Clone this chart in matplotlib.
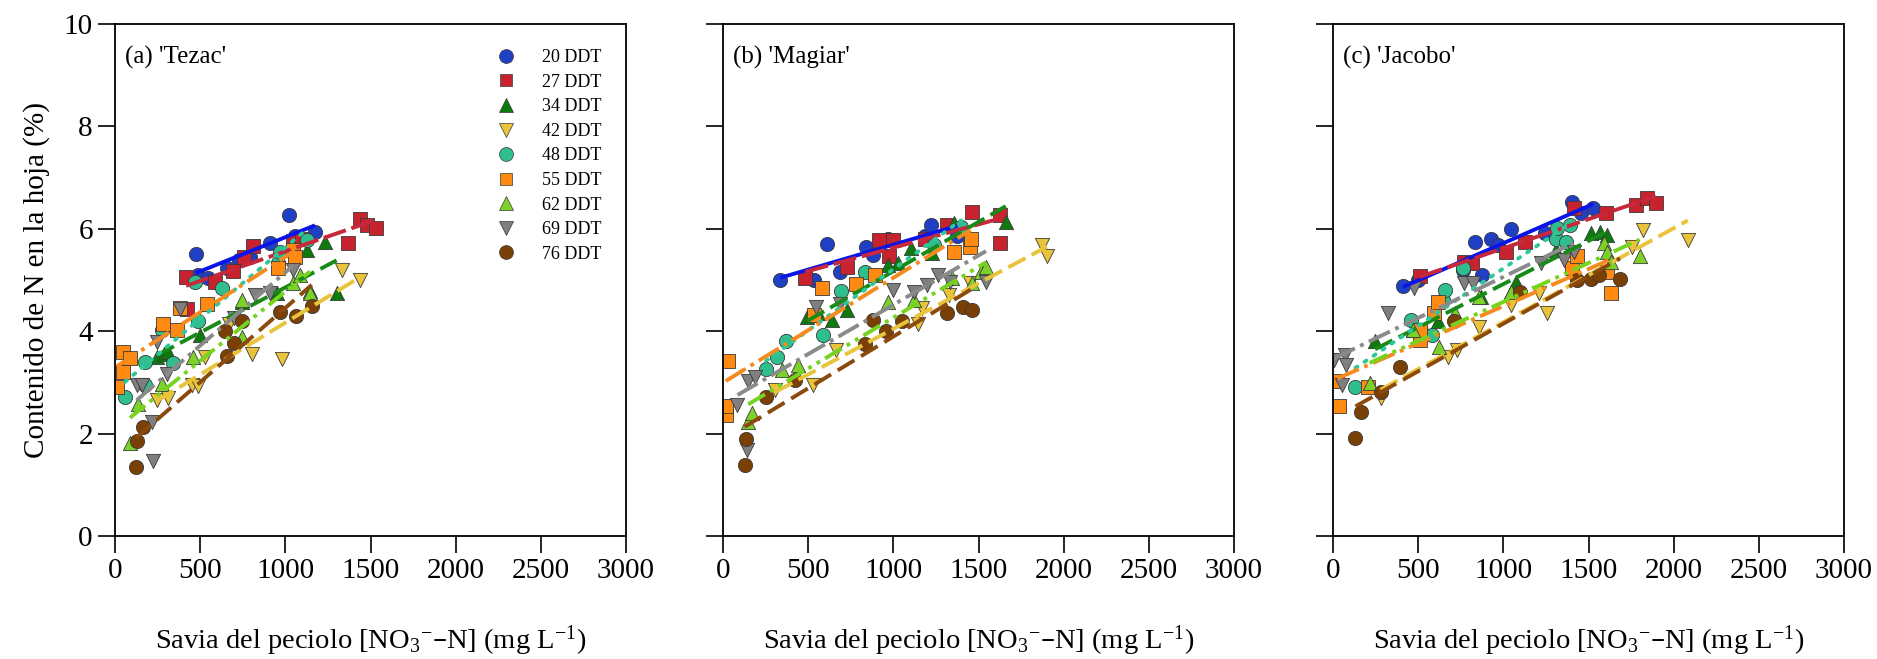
import numpy as np
import matplotlib
matplotlib.use("Agg")
import matplotlib.pyplot as plt
from matplotlib.lines import Line2D

plt.rcParams['font.family'] = ['Liberation Serif', 'DejaVu Serif']
plt.rcParams['mathtext.default'] = 'regular'

labels = ["20 DDT", "27 DDT", "34 DDT", "42 DDT", "48 DDT", "55 DDT", "62 DDT", "69 DDT", "76 DDT"]
panel_titles = ["(a) 'Tezac'", "(b) 'Magiar'", "(c) 'Jacobo'"]

# (a) Tezac: petiole sap NO3-N (mg/L) and leaf N (%)
tezac_x = [
    [474, 489, 548, 656, 730, 793, 910, 1023, 1057, 1174],
    [417, 421, 587, 695, 760, 808, 1047, 1100, 1369, 1438, 1477, 1531],
    [245, 290, 313, 499, 744, 949, 1125, 1145, 1233, 1301],
    [245, 313, 450, 490, 528, 671, 803, 979, 1331, 1438],
    [59, 176, 176, 274, 342, 470, 489, 626, 958, 969, 1125],
    [10, 49, 49, 88, 284, 362, 383, 538, 959, 1047, 1057],
    [88, 137, 274, 460, 744, 744, 1047, 1086, 1145],
    [127, 157, 215, 225, 245, 303, 382, 700, 822, 910, 1047],
    [123, 131, 166, 646, 659, 698, 744, 969, 1063, 1155],
]
tezac_y = [
    [5.51, 5.10, 5.03, 5.23, 5.40, 5.45, 5.73, 6.26, 5.85, 5.94],
    [5.05, 4.43, 4.97, 5.18, 5.45, 5.66, 5.77, 5.80, 5.72, 6.20, 6.08, 6.01],
    [3.50, 3.56, 3.60, 3.93, 4.58, 4.74, 5.58, 4.78, 5.75, 4.74],
    [2.66, 2.69, 2.95, 2.93, 3.50, 4.15, 3.56, 3.45, 5.20, 5.00],
    [2.72, 3.40, 2.95, 4.02, 3.37, 4.97, 4.19, 4.84, 5.33, 5.55, 5.78],
    [2.92, 3.21, 3.60, 3.47, 4.15, 4.02, 4.45, 4.54, 5.23, 5.59, 5.45],
    [1.81, 2.57, 2.96, 3.50, 3.89, 4.61, 4.94, 5.10, 4.74],
    [2.94, 2.95, 2.22, 1.47, 3.78, 3.16, 4.43, 4.25, 4.71, 4.75, 5.20],
    [1.35, 1.86, 2.13, 4.00, 3.51, 3.77, 4.19, 4.38, 4.29, 4.50],
]

# (b) Magiar
magiar_x = [
    [337, 537, 610, 684, 841, 883, 967, 1187, 1219, 1376],
    [484, 726, 915, 977, 998, 1187, 1313, 1460, 1628, 1628],
    [495, 560, 642, 726, 967, 1030, 1103, 1229, 1355, 1660],
    [306, 526, 663, 1146, 1166, 1324, 1450, 1870, 1901],
    [253, 316, 369, 589, 694, 831, 1240, 1397],
    [16, 16, 29, 537, 579, 778, 894, 1355, 1450, 1454],
    [148, 169, 348, 442, 967, 1124, 1345, 1460, 1513, 1544],
    [85, 138, 148, 190, 547, 684, 998, 1124, 1198, 1261, 1334, 1544],
    [127, 134, 253, 421, 831, 883, 956, 1051, 1313, 1408, 1460],
]
magiar_y = [
    [5.00, 5.00, 5.70, 5.16, 5.65, 5.49, 5.81, 5.85, 6.07, 5.85],
    [5.03, 5.26, 5.78, 5.46, 5.78, 5.81, 6.07, 6.33, 6.27, 5.72],
    [4.28, 4.35, 4.22, 4.41, 5.29, 5.33, 5.62, 5.52, 6.11, 6.14],
    [2.85, 2.95, 3.63, 4.15, 4.45, 4.71, 4.94, 5.68, 5.46],
    [3.27, 3.49, 3.80, 3.93, 4.79, 5.16, 5.68, 6.04],
    [2.36, 2.54, 3.42, 4.32, 4.84, 4.92, 5.10, 5.55, 5.65, 5.81],
    [2.23, 2.40, 3.24, 3.34, 4.57, 4.61, 5.03, 4.94, 5.16, 5.26],
    [2.56, 1.68, 3.02, 3.11, 4.48, 4.54, 4.80, 4.77, 4.90, 5.10, 4.97, 4.97],
    [1.39, 1.89, 2.72, 3.04, 3.76, 4.22, 4.01, 4.20, 4.36, 4.48, 4.41],
]

# (c) Jacobo
jacobo_x = [
    [411, 499, 761, 835, 877, 929, 971, 1045, 1244, 1401, 1454, 1527],
    [509, 772, 814, 1013, 1128, 1412, 1601, 1779, 1842, 1895],
    [247, 467, 614, 866, 1045, 1076, 1307, 1517, 1569, 1611],
    [279, 677, 730, 856, 1045, 1212, 1254, 1758, 1821, 2083],
    [132, 457, 520, 583, 646, 656, 761, 1307, 1317, 1370, 1391],
    [26, 33, 205, 509, 509, 593, 614, 1401, 1433, 1607, 1632],
    [215, 467, 625, 719, 856, 1045, 1590, 1611, 1632, 1800],
    [5, 54, 68, 79, 320, 478, 772, 824, 1223, 1359, 1412],
    [132, 163, 279, 394, 709, 1097, 1433, 1517, 1559, 1685],
]
jacobo_y = [
    [4.89, 5.00, 5.20, 5.75, 5.10, 5.81, 5.68, 5.99, 5.91, 6.53, 6.30, 6.40],
    [5.08, 5.36, 5.33, 5.55, 5.75, 6.40, 6.30, 6.46, 6.61, 6.50],
    [3.80, 4.02, 4.19, 4.67, 4.77, 4.97, 5.59, 5.91, 5.94, 5.88],
    [2.69, 3.50, 3.63, 4.09, 4.51, 4.74, 4.35, 5.65, 5.98, 5.78],
    [2.92, 4.22, 3.96, 3.93, 4.61, 4.81, 5.23, 5.81, 6.01, 5.75, 6.07],
    [3.02, 2.54, 2.92, 3.83, 4.02, 4.35, 4.58, 5.23, 5.46, 5.16, 4.74],
    [2.98, 4.02, 3.70, 4.35, 4.67, 4.77, 5.72, 5.55, 5.36, 5.46],
    [3.44, 2.95, 3.54, 3.34, 4.35, 4.84, 4.94, 4.94, 5.33, 5.39, 5.55],
    [1.91, 2.43, 2.82, 3.31, 4.19, 4.77, 5.00, 5.01, 5.10, 5.01],
]

marker_colors = ['#1f3fc4', '#c7232f', '#0d7a0d', '#e9c33a', '#2fbf8f',
                 '#ff8a12', '#7cd22a', '#7f7f7f', '#7a3f05']
line_colors = ['#0a14e6', '#c8283c', '#178a17', '#e8c43c', '#2ec79a',
               '#f58a1e', '#76d420', '#8a8a8a', '#8b4a0c']
markers = ['o', 's', '^', 'v', 'o', 's', '^', 'v', 'o']
marker_sizes = [105, 90, 105, 105, 105, 90, 105, 105, 105]
dashes = [None, (6, 1.5), (5, 1.8), (5, 1.8), (0.6, 2.2), (6, 1.5, 1, 1.5),
          (5, 1.5, 1, 1.5, 1, 1.5), (6, 1.5, 1, 1.5), (5, 2)]

panels_x = [tezac_x, magiar_x, jacobo_x]
panels_y = [tezac_y, magiar_y, jacobo_y]

fig = plt.figure(figsize=(18.77, 6.59), dpi=100)
lefts = [115 / 1877, 723 / 1877, 1333 / 1877]
axes = [fig.add_axes([l, 0.1866, 511 / 1877, 0.777]) for l in lefts]

for k, ax in enumerate(axes):
    px, py = panels_x[k], panels_y[k]
    for i in range(len(labels)):
        ax.scatter(px[i], py[i], s=marker_sizes[i], marker=markers[i], c=marker_colors[i],
                   edgecolors='#3a3a3a', linewidths=0.6, zorder=2 + i * 0.01)
    # regression line per sampling date, over the range of its points
    for i in range(len(labels)):
        x = np.array(px[i], dtype=float)
        y = np.array(py[i], dtype=float)
        b, a = np.polyfit(x, y, 1)
        xx = np.array([x.min(), x.max()])
        ln, = ax.plot(xx, a + b * xx, color=line_colors[i], lw=2.8, zorder=3,
                      solid_capstyle='butt', dash_capstyle='butt')
        if dashes[i] is not None:
            ln.set_dashes(dashes[i])
            if i == 4:
                ln.set_dash_capstyle('round')

    ax.set_xlim(0, 3000)
    ax.set_ylim(0, 10)
    ax.set_xticks([0, 500, 1000, 1500, 2000, 2500, 3000])
    ax.set_yticks([0, 2, 4, 6, 8, 10])
    ax.tick_params(direction='out', length=12, width=1.2, labelsize=21, pad=4)
    for sp in ax.spines.values():
        sp.set_linewidth(1.3)
    ax.spines['left'].set_zorder(5)
    ax.spines['bottom'].set_zorder(5)
    if k > 0:
        ax.set_yticklabels([])
    ax.set_xlabel('Savia del peciolo [NO$_3$$^{-}$\u2013N] (mg L$^{-1}$)', fontsize=20.5, labelpad=28)
    ax.text(0.02, 0.935, panel_titles[k], transform=ax.transAxes, fontsize=18, va='center')

axes[0].set_ylabel('Contenido de N en la hoja (%)', fontsize=21, labelpad=10)

handles = [Line2D([], [], ls='none', marker=markers[i], markersize=10 if markers[i] != 's' else 9,
                  markerfacecolor=marker_colors[i], markeredgecolor='#3a3a3a', markeredgewidth=0.5)
           for i in range(len(labels))]
axes[0].legend(handles, labels, loc='upper left', bbox_to_anchor=(0.73, 0.965), frameon=False,
               fontsize=13, labelspacing=0.42, handletextpad=1.4, handlelength=1.2,
               borderaxespad=0)

fig.savefig('out.png', dpi=100)
